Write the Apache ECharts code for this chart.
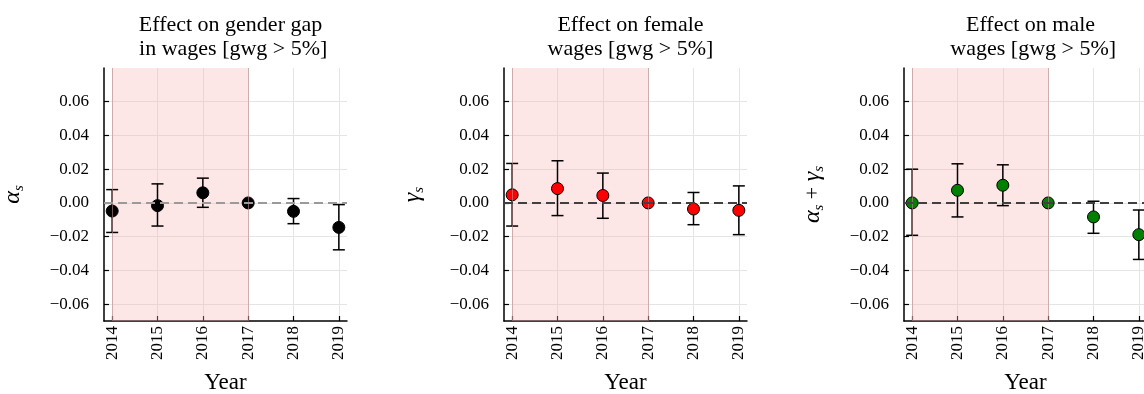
<!DOCTYPE html>
<html>
<head>
<meta charset="utf-8">
<script src="https://cdn.jsdelivr.net/npm/echarts@6/dist/echarts.min.js"></script>
<style>
  html, body { margin: 0; padding: 0; background: #fff; }
  #chart { width: 1144px; height: 394px; }
</style>
</head>
<body>
<div id="chart"></div>
<script>
const years = [2014, 2015, 2016, 2017, 2018, 2019];
const yTicks = [-0.06, -0.04, -0.02, 0, 0.02, 0.04, 0.06];

// alpha_s : effect on gender gap
const alphaEst = [-0.0048, -0.0016, 0.0060, 0, -0.0050, -0.0145];
const alphaLo = [-0.0175, -0.0137, -0.0026, 0, -0.0123, -0.0278];
const alphaHi = [0.0079, 0.0113, 0.0147, 0, 0.0026, -0.0010];

// gamma_s : effect on female wages
const gammaEst = [0.0048, 0.0085, 0.0044, 0, -0.0036, -0.0044];
const gammaLo = [-0.0137, -0.0075, -0.0091, 0, -0.0129, -0.0188];
const gammaHi = [0.0234, 0.0250, 0.0177, 0, 0.0062, 0.0101];

// alpha_s + gamma_s : effect on male wages
const sumEst = [0.0000, 0.0075, 0.0105, 0, -0.0083, -0.0188];
const sumLo = [-0.0192, -0.0083, -0.0016, 0, -0.0180, -0.0335];
const sumHi = [0.0200, 0.0232, 0.0226, 0, 0.0010, -0.0042];

const shadeFrom = 2014, shadeTo = 2017;

const panels = [
    { title: "Effect on gender gap\n in wages [gwg > 5%]", yName: "{g|α}{s|s}", est: alphaEst, lo: alphaLo, hi: alphaHi, color: "#000000", zero: "#9a9a9a" },
    { title: "Effect on female\nwages [gwg > 5%]", yName: "{g|γ}{s|s}", est: gammaEst, lo: gammaLo, hi: gammaHi, color: "#ff0000", zero: "#404040" },
    { title: "Effect on male\n wages [gwg > 5%]", yName: "{g|α}{s|s}{p| + }{g|γ}{s|s}", est: sumEst, lo: sumLo, hi: sumHi, color: "#008000", zero: "#404040" },
];

const font = "'Liberation Serif', 'DejaVu Serif', serif";
const gridLeft = [104, 504, 904];
const plotW = 243;

const chart = echarts.init(document.getElementById("chart"));

const grid = [], xAxis = [], yAxis = [], series = [], title = [];

panels.forEach((p, i) => {
    grid.push({ left: gridLeft[i], top: 68, width: plotW, height: 253, outerBoundsMode: "none", containLabel: false });
    title.push({
        text: p.title,
        left: gridLeft[i] + plotW / 2,
        top: 8,
        textAlign: "center",
        textStyle: { fontFamily: font, fontWeight: "normal", fontSize: 22, color: "#000", lineHeight: 24, align: "center" },
    });
    xAxis.push({
        gridIndex: i,
        type: "value",
        min: 2013.82,
        max: 2019.18,
        name: "Year",
        nameLocation: "middle",
        nameGap: 50,
        nameTextStyle: { fontFamily: font, fontSize: 23, color: "#000" },
        axisLine: { onZero: false, lineStyle: { color: "#000", width: 1.5 } },
        axisTick: { show: true, inside: true, length: 5, customValues: years, lineStyle: { color: "#000", width: 1.2 } },
        axisLabel: { customValues: years, rotate: 90, margin: 5, fontFamily: font, fontSize: 17, color: "#000", formatter: (v) => String(v) },
        splitLine: { show: true, lineStyle: { color: "#e4e4e4", width: 1 } },
    });
    yAxis.push({
        gridIndex: i,
        type: "value",
        min: -0.07,
        max: 0.08,
        name: p.yName,
        nameLocation: "middle",
        nameRotate: 90,
        nameGap: 77,
        nameTextStyle: {
            fontFamily: font, fontSize: 20, color: "#000",
            rich: {
                g: { fontFamily: font, fontStyle: "italic", fontSize: 24, lineHeight: 28 },
                s: { fontFamily: font, fontStyle: "italic", fontSize: 15, lineHeight: 28, verticalAlign: "bottom" },
                p: { fontFamily: font, fontSize: 22, lineHeight: 28 },
            },
        },
        axisLine: { show: true, lineStyle: { color: "#000", width: 1.5 } },
        axisTick: { show: true, inside: true, length: 5, customValues: yTicks, lineStyle: { color: "#000", width: 1.2 } },
        axisLabel: {
            customValues: yTicks, margin: 15, fontFamily: font, fontSize: 17, color: "#000",
            formatter: (v) => (v < 0 ? "\u2212" : "") + Math.abs(v).toFixed(2),
        },
        splitLine: { show: true, lineStyle: { color: "#e4e4e4", width: 1 } },
    });

    // shaded span and error bars
    series.push({
        type: "custom",
        xAxisIndex: i,
        yAxisIndex: i,
        data: years.map((y, k) => [y, p.lo[k], p.hi[k]]),
        markArea: {
            silent: true,
            itemStyle: { color: "rgba(248,180,180,0.33)", borderWidth: 0 },
            data: [[{ xAxis: shadeFrom }, { xAxis: shadeTo }]],
        },
        renderItem: (params, api) => {
            const lo = api.value(1), hi = api.value(2);
            if (lo === hi) return null;
            const a = api.coord([api.value(0), lo]);
            const b = api.coord([api.value(0), hi]);
            const st = { stroke: "#000", lineWidth: 1.5 };
            return {
                type: "group",
                children: [
                    { type: "line", shape: { x1: a[0], y1: a[1], x2: b[0], y2: b[1] }, style: st },
                    { type: "line", shape: { x1: a[0] - 6, y1: a[1], x2: a[0] + 6, y2: a[1] }, style: st },
                    { type: "line", shape: { x1: b[0] - 6, y1: b[1], x2: b[0] + 6, y2: b[1] }, style: st },
                ],
            };
        },
        z: 3,
    });
    series.push({
        type: "scatter",
        xAxisIndex: i,
        yAxisIndex: i,
        data: years.map((y, k) => [y, p.est[k]]),
        symbolSize: 12,
        itemStyle: { color: p.color, borderColor: "#000", borderWidth: 1, opacity: 1 },
        z: 4,
    });
    // span edges and zero reference line, drawn over the points
    series.push({
        type: "line",
        xAxisIndex: i,
        yAxisIndex: i,
        data: [],
        markLine: {
            silent: true,
            symbol: "none",
            label: { show: false },
            data: [
                { xAxis: shadeFrom, lineStyle: { color: "rgba(190,140,140,0.6)", width: 1, type: "solid" } },
                { xAxis: shadeTo, lineStyle: { color: "rgba(190,140,140,0.6)", width: 1, type: "solid" } },
                { yAxis: 0, lineStyle: { color: p.zero, width: 1.8, type: [9, 5] } },
            ],
        },
        z: 5,
    });
});

chart.setOption({
    animation: false,
    title: title,
    grid: grid,
    xAxis: xAxis,
    yAxis: yAxis,
    series: series,
});
</script>
</body>
</html>
